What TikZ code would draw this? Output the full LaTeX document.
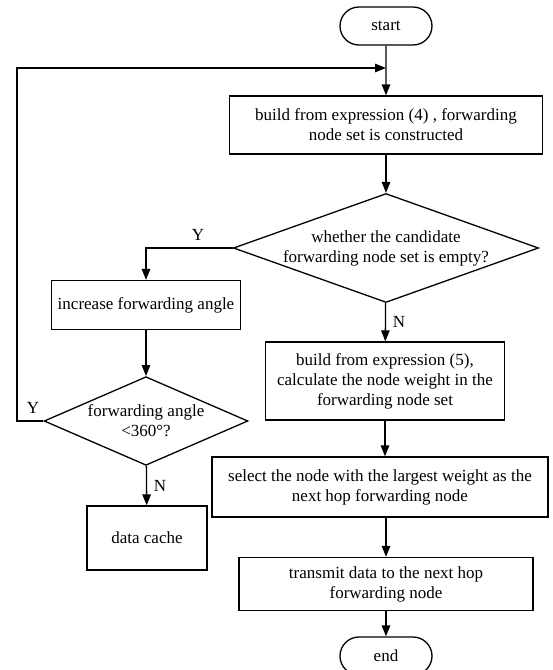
\documentclass[tikz,border=0pt]{standalone}
\usepackage{fontspec}
\setmainfont{Liberation Serif}
\usetikzlibrary{arrows.meta,shapes.geometric,shapes.misc}
\begin{document}
\begin{tikzpicture}[x=1pt, y=-1pt, >={Triangle[length=11pt,width=8.5pt]}, line width=1.3pt,
		every node/.style={font=\fontsize{17}{20}\selectfont},
		term/.style={draw, rounded rectangle, minimum width=92pt, minimum height=38pt, inner sep=0pt},
		proc/.style={draw, rectangle, align=center, inner sep=0pt},
		decide/.style={draw, diamond, align=center, inner sep=0pt},
		lbl/.style={inner sep=1pt}]
	\useasboundingbox (0,0) rectangle (553,670);
	
	% 1. 主流程节点（右列）
	\node[term] (start) at (386,26) {start};
	\node[proc, minimum width=313pt, minimum height=58pt] (build4) at (386,125) {build from expression (4) , forwarding\\node set is constructed};
	\node[decide, aspect=2.8] (empty) at (386,248) {whether the candidate\\forwarding node set is empty?};
	\node[proc, minimum width=239pt, minimum height=78pt] (build5) at (385,381) {build from expression (5),\\calculate the node weight in the\\forwarding node set};
	\node[proc, minimum width=336pt, minimum height=60pt] (select) at (380,487) {select the node with the largest weight as the\\next hop forwarding node};
	\node[proc, minimum width=294pt, minimum height=53pt] (trans) at (386,584) {transmit data to the next hop\\forwarding node};
	\node[term] (end) at (386,656) {end};
	
	% 2. 左列节点
	\node[proc, minimum width=189pt, minimum height=49pt] (incr) at (146,305) {increase forwarding angle};
	\node[decide, aspect=2.3, inner sep=2pt] (angle) at (146,421) {forwarding angle\\{<}360°?};
	\node[proc, minimum width=120pt, minimum height=64pt] (cache) at (147,538) {data cache};
	
	% 3. 连线（回路先到 back 再接主干）
	\coordinate (join) at (386,68);
	\coordinate (back) at (17,68);
	\draw[->] (start) -- (build4);
	\draw[->] (build4) -- (empty);
	\draw[->] (empty) -- (build5);
	\draw[->] (build5.south) -- (build5.south |- select.north);
	\draw[->] (trans.north |- select.south) -- (trans.north);
	\draw[->] (trans) -- (end);
	\draw[->] (empty.west) -| (incr.north);
	\draw[->] (incr) -- (angle);
	\draw[->] (angle) -- (cache);
	\draw[->] (angle.west) -| (back) -- (join);
	
	% 4. Y/N 标号
	\node[lbl] (y1) at (198,235) {Y};
	\node[lbl] (n1) at (399,322) {N};
	\node[lbl] (y2) at (33,408) {Y};
	\node[lbl] (n2) at (160,486) {N};
\end{tikzpicture}
\end{document}
